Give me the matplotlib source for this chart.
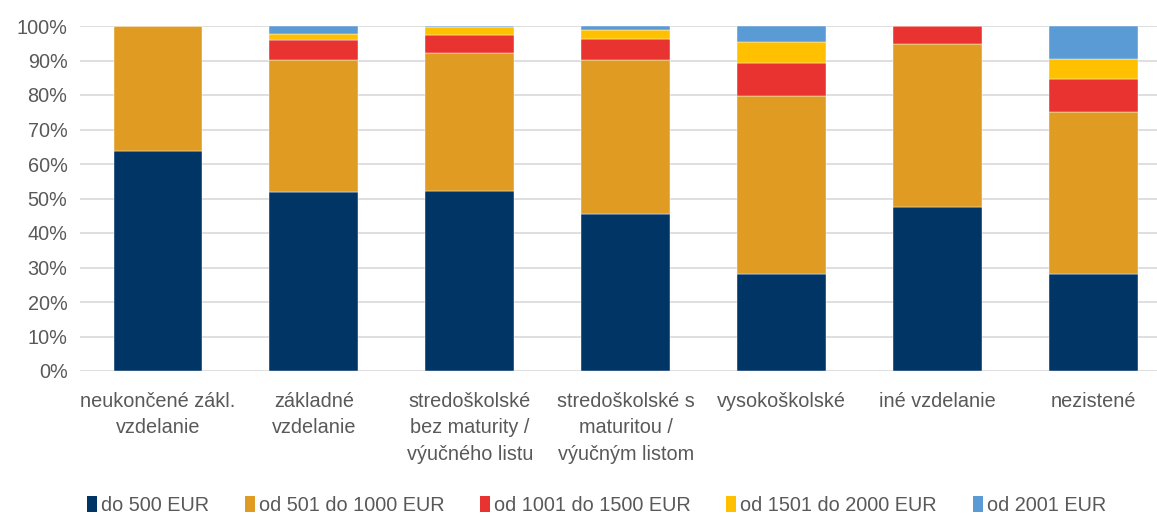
import numpy as np
import matplotlib.pyplot as plt
from matplotlib.font_manager import findfont, FontProperties
from matplotlib.patches import Patch

categories = [
    "neukončené zákl.\nvzdelanie",
    "základné\nvzdelanie",
    "stredoškolské\nbez maturity /\nvýučného listu",
    "stredoškolské s\nmaturitou /\nvýučným listom",
    "vysokoškolské",
    "iné vzdelanie",
    "nezistené",
]
series_names = ["do 500 EUR", "od 501 do 1000 EUR", "od 1001 do 1500 EUR",
                "od 1501 do 2000 EUR", "od 2001 EUR"]
do_500 = [63.7, 52.0, 52.3, 45.6, 28.2, 47.4, 28.2]
od_501 = [36.3, 38.1, 39.9, 44.5, 51.5, 47.5, 46.9]
od_1001 = [0.0, 5.8, 5.3, 6.1, 9.7, 5.1, 9.4]
od_1501 = [0.0, 1.8, 2.1, 2.7, 6.0, 0.0, 6.0]
od_2001 = [0.0, 2.3, 0.4, 1.1, 4.6, 0.0, 9.5]
colors = ["#003566", "#E09C22", "#E83331", "#FFC000", "#5B9BD5"]

fam = "Liberation Sans Narrow"
try:
    findfont(FontProperties(family=fam), fallback_to_default=False)
    fsize = 16
except Exception:
    fam = "Liberation Sans"
    fsize = 14.3
plt.rcParams["font.family"] = [fam, "DejaVu Sans"]
text_color = "#595959"

fig = plt.figure(figsize=(11.57, 5.17), dpi=100)
ax = fig.add_axes([80 / 1157, 146 / 517, 1091.5 / 1157, 345 / 517])

x = np.arange(len(categories))
bottom = np.zeros(len(categories))
for vals, c in zip([do_500, od_501, od_1001, od_1501, od_2001], colors):
    v = np.array(vals)
    ax.bar(x, v, 0.57, bottom=bottom, color=c, edgecolor="white",
           linewidth=0.3, zorder=2)
    bottom += v

ax.set_xlim(-0.5, len(categories) - 0.5)
ax.set_ylim(0, 100)
ax.set_yticks(np.arange(0, 101, 10))
ax.set_yticklabels([f"{v}%" for v in range(0, 101, 10)])
ax.yaxis.grid(True, color="#d9d9d9", linewidth=1.2, zorder=0)
ax.set_axisbelow(True)
ax.set_xticks(x)
ax.set_xticklabels(categories, linespacing=1.5, va="top")
ax.tick_params(axis="both", length=0, labelsize=fsize, colors=text_color)
ax.tick_params(axis="x", pad=15)
ax.tick_params(axis="y", pad=9)
for s in ax.spines.values():
    s.set_visible(False)

handles = [Patch(facecolor=c, edgecolor="none") for c in colors]
fig.legend(handles, series_names, loc="lower left", bbox_to_anchor=(69 / 1157, -0.03),
           ncol=5, frameon=False, fontsize=fsize, handlelength=0.5,
           handleheight=0.9, handletextpad=0.2, columnspacing=1.8,
           labelcolor=text_color)

fig.savefig("out.png", dpi=100)
